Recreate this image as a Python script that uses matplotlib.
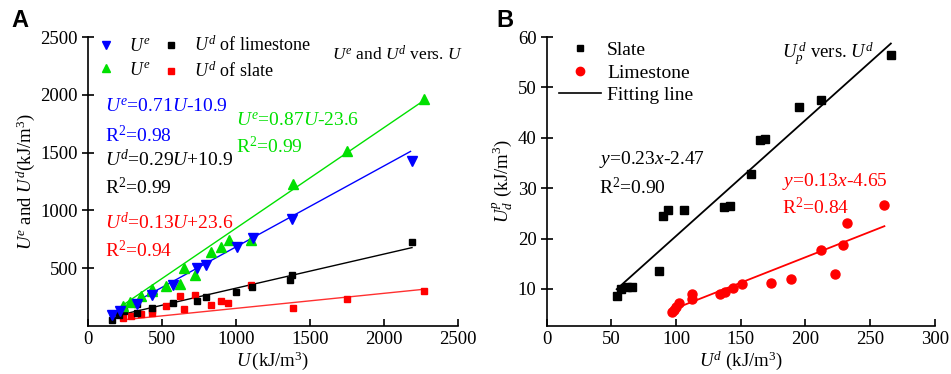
import numpy as np
import matplotlib
matplotlib.use('Agg')
import matplotlib.pyplot as plt
from matplotlib.lines import Line2D

plt.rcParams['font.family'] = 'serif'
plt.rcParams['font.serif'] = ['Liberation Serif', 'DejaVu Serif']
plt.rcParams['mathtext.fontset'] = 'custom'
plt.rcParams['mathtext.rm'] = 'Liberation Serif'
plt.rcParams['mathtext.it'] = 'Liberation Serif:italic'
plt.rcParams['font.size'] = 13.5

# =========================
# Panel A data
# =========================
u_blue = [160, 216, 329, 430, 577, 734, 797, 1005, 1117, 1376, 2192]
ue_blue = [100, 129, 194, 266, 357, 503, 529, 680, 760, 929, 1431]

u_green = [239, 284, 358, 430, 430, 525, 622, 651, 723, 829, 896, 950, 1099, 1387, 1748, 2272]
ue_green = [174, 208, 260, 323, 300, 349, 366, 503, 446, 643, 680, 743, 743, 1228, 1514, 1960]

u_black = [160, 209, 243, 329, 329, 434, 577, 734, 797, 1000, 1110, 1365, 1376, 2187]
ud_black = [51, 94, 129, 114, 189, 157, 203, 217, 251, 294, 337, 403, 440, 728]

u_red = [239, 291, 358, 434, 434, 525, 622, 651, 723, 829, 896, 948, 1099, 1387, 1748, 2272]
ud_red = [66, 88, 103, 117, 140, 171, 257, 151, 266, 186, 217, 200, 357, 160, 231, 300]

# fit lines: (slope, intercept, x start, x end)
fit_blue = (0.70, -15, 150, 2180)
fit_green = (0.87, -23.6, 230, 2272)
fit_black = (0.295, 33, 155, 2190)
fit_red = (0.13, 23.6, 230, 2272)

# =========================
# Panel B data
# =========================
x_slate = [54, 57, 62, 66, 87, 90, 94, 106, 137, 142, 158, 165, 169, 195, 212, 266]
y_slate = [8.6, 9.9, 10.3, 10.3, 13.6, 24.5, 25.6, 25.7, 26.2, 26.5, 32.9, 39.5, 39.8, 46.1, 47.6, 56.5]

x_lime = [97, 98, 100, 102, 112, 112, 134, 138, 144, 151, 173, 189, 212, 223, 229, 232, 261]
y_lime = [5.4, 5.9, 6.5, 7.2, 8.1, 9.0, 9.1, 9.3, 10.1, 10.9, 11.1, 11.9, 17.8, 12.9, 18.7, 23.1, 26.7]

fit_slate = (0.23, -2.47, 54, 266)
fit_lime = (0.101, -3.9, 98, 261)

BLUE, GREEN, RED = '#0000ff', '#00e000', '#ff0000'

fig = plt.figure(figsize=(9.51, 3.74), dpi=100)
axA = fig.add_axes([0.0925, 0.128, 0.389, 0.773])
axB = fig.add_axes([0.575, 0.129, 0.408, 0.772])


def fit_line(ax, fit, color, lw=1.0):
    k, b, x0, x1 = fit
    xs = np.array([x0, x1])
    ax.plot(xs, k * xs + b, color=color, lw=lw, zorder=2)


def style(ax):
    for s in ['top', 'right']:
        ax.spines[s].set_visible(False)
    ax.tick_params(axis='x', direction='in', length=5, width=1.2, labelsize=13.5)
    ax.tick_params(axis='y', direction='inout', length=8, width=1.2, labelsize=13.5)
    for s in ['left', 'bottom']:
        ax.spines[s].set_linewidth(1.2)


# =========================
# A
# =========================
ms = 5
fit_line(axA, fit_green, GREEN)
fit_line(axA, fit_blue, BLUE)
fit_line(axA, fit_black, 'black')
fit_line(axA, fit_red, '#ff3030')
axA.plot(u_red, ud_red, 's', color=RED, ms=ms, ls='none', zorder=3)
axA.plot(u_black, ud_black, 's', color='black', ms=ms, ls='none', zorder=3)
axA.plot(u_green, ue_green, '^', color=GREEN, ms=ms + 1.5, ls='none', zorder=3)
axA.plot(u_blue, ue_blue, 'v', color=BLUE, ms=ms + 1.5, ls='none', zorder=3)

axA.set_xlim(0, 2500)
axA.set_ylim(0, 2500)
axA.set_xticks([0, 500, 1000, 1500, 2000, 2500])
axA.set_yticks([500, 1000, 1500, 2000, 2500])
style(axA)
axA.set_xlabel(r'$U\,$(kJ/m$^3$)', labelpad=1)
axA.set_ylabel(r'$U^e$ and $U^d$(kJ/m$^3$)', labelpad=2)

h = [Line2D([], [], marker='v', color=BLUE, ls='none', ms=5.5),
     Line2D([], [], marker='^', color=GREEN, ls='none', ms=5.5),
     Line2D([], [], marker='s', color='black', ls='none', ms=4.5),
     Line2D([], [], marker='s', color=RED, ls='none', ms=4.5)]
lab = [r'$U^e$', r'$U^e$', r'$U^d$ of limestone', r'$U^d$ of slate']
axA.legend(h, lab, ncol=2, frameon=False, loc='upper left',
           bbox_to_anchor=(-0.035, 1.06), handlelength=1.6, handletextpad=0.5,
           columnspacing=0.3, labelspacing=0.35, fontsize=13)
axA.text(0.66, 0.94, r'$U^e$ and $U^d$ vers. $U$', transform=axA.transAxes,
         fontsize=12.5, va='center')

axA.text(0.045, 0.76, r'$U^e$=0.71$U$-10.9', color=BLUE, transform=axA.transAxes, va='center', fontsize=14)
axA.text(0.045, 0.66, r'R$^2$=0.98', color=BLUE, transform=axA.transAxes, va='center', fontsize=14)
axA.text(0.40, 0.71, r'$U^e$=0.87$U$-23.6', color=GREEN, transform=axA.transAxes, va='center', fontsize=14)
axA.text(0.40, 0.62, r'R$^2$=0.99', color=GREEN, transform=axA.transAxes, va='center', fontsize=14)
axA.text(0.045, 0.575, r'$U^d$=0.29$U$+10.9', color='black', transform=axA.transAxes, va='center', fontsize=14)
axA.text(0.045, 0.478, r'R$^2$=0.99', color='black', transform=axA.transAxes, va='center', fontsize=14)
axA.text(0.045, 0.36, r'$U^d$=0.13$U$+23.6', color=RED, transform=axA.transAxes, va='center', fontsize=14)
axA.text(0.045, 0.263, r'R$^2$=0.94', color=RED, transform=axA.transAxes, va='center', fontsize=14)

# =========================
# B
# =========================
fit_line(axB, fit_slate, 'black', lw=1.3)
fit_line(axB, fit_lime, RED, lw=1.3)
axB.plot(x_slate, y_slate, 's', color='black', ms=5.5, ls='none', zorder=3)
axB.plot(x_lime, y_lime, 'o', color=RED, ms=6.5, ls='none', zorder=3)

axB.set_xlim(0, 300)
axB.set_ylim(2.7, 60)
axB.set_xticks([0, 50, 100, 150, 200, 250, 300])
axB.set_yticks([10, 20, 30, 40, 50, 60])
style(axB)
axB.set_xlabel(r'$U^d$ (kJ/m$^3$)', labelpad=1)
axB.set_ylabel(r'$U_d^p$ (kJ/m$^3$)', labelpad=2)

hb = [Line2D([], [], marker='s', color='black', ls='none', ms=5),
      Line2D([], [], marker='o', color=RED, ls='none', ms=6),
      Line2D([], [], color='black', lw=1.2)]
axB.legend(hb, ['Slate', 'Limestone', 'Fitting line'], frameon=False, loc='upper left',
           bbox_to_anchor=(-0.015, 1.045), handlelength=2.2, handletextpad=0.3,
           labelspacing=0.25, fontsize=14)
axB.text(0.605, 0.94, r'$U_p^{\,d}$ vers. $U^d$', transform=axB.transAxes, fontsize=13.5, va='center')

axB.text(0.135, 0.575, r'$y$=0.23$x$-2.47', transform=axB.transAxes, va='center', fontsize=14)
axB.text(0.135, 0.48, r'R$^2$=0.90', transform=axB.transAxes, va='center', fontsize=14)
axB.text(0.605, 0.50, r'$y$=0.13$x$-4.65', color=RED, transform=axB.transAxes, va='center', fontsize=14)
axB.text(0.605, 0.41, r'R$^2$=0.84', color=RED, transform=axB.transAxes, va='center', fontsize=14)

fig.text(0.012, 0.945, 'A', fontsize=17, fontweight='bold', family='Liberation Sans', va='center')
fig.text(0.522, 0.945, 'B', fontsize=17, fontweight='bold', family='Liberation Sans', va='center')

fig.savefig('out.png', dpi=100)
